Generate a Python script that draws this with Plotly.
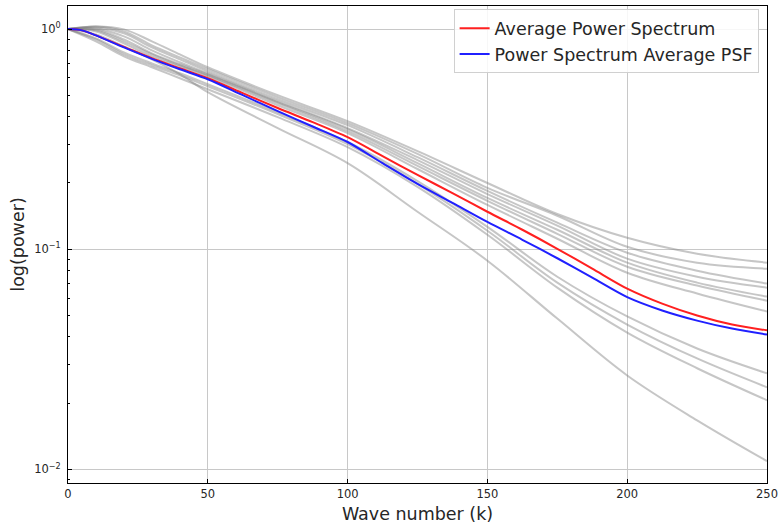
import plotly.graph_objects as go

# Wave numbers at which the two average curves were read
k_avg = [0, 5, 10, 20, 30, 40, 50, 62.5, 75, 87.5, 100, 112.5, 125, 137.5, 150,
         162.5, 175, 187.5, 200, 212.5, 225, 237.5, 250]
avg_power = [1.0, 0.987, 0.936, 0.831, 0.737, 0.664, 0.598, 0.512, 0.438, 0.378, 0.323,
             0.265, 0.2175, 0.180, 0.148, 0.1226, 0.1005, 0.0816, 0.0662, 0.0566, 0.0500,
             0.0455, 0.0428]
avg_psf = [1.0, 0.987, 0.936, 0.826, 0.733, 0.657, 0.592, 0.501, 0.424, 0.361, 0.307,
           0.246, 0.198, 0.1624, 0.133, 0.1104, 0.0910, 0.0743, 0.0606, 0.0527, 0.0474,
           0.0436, 0.0410]

# Wave numbers at which the individual (gray) spectra were read
k_gray = [0, 10, 20, 30, 40, 50, 75, 100, 125, 150, 175, 200, 225, 250]
gray_u1 = [1.0, 1.028, 0.997, 0.880, 0.768, 0.671, 0.501, 0.382, 0.279, 0.200, 0.1445, 0.1127, 0.0954, 0.0869]
gray_u2 = [1.0, 1.028, 0.976, 0.844, 0.744, 0.657, 0.491, 0.374, 0.271, 0.190, 0.142, 0.1026, 0.0869, 0.0816]
gray_u3 = [1.0, 1.018, 0.956, 0.826, 0.729, 0.643, 0.480, 0.366, 0.262, 0.184, 0.132, 0.0964, 0.0799, 0.0698]
gray_u4 = [1.0, 1.007, 0.927, 0.801, 0.707, 0.630, 0.471, 0.355, 0.254, 0.178, 0.128, 0.0906, 0.0750, 0.0669]
gray_u5 = [1.0, 0.997, 0.898, 0.776, 0.692, 0.624, 0.466, 0.351, 0.246, 0.171, 0.1226, 0.0869, 0.0705, 0.0609]
gray_u6 = [1.0, 0.987, 0.880, 0.768, 0.685, 0.617, 0.461, 0.344, 0.239, 0.166, 0.1175, 0.0833, 0.0684, 0.0584]
gray_u7 = [1.0, 0.976, 0.861, 0.752, 0.678, 0.611, 0.451, 0.337, 0.2315, 0.159, 0.1116, 0.0782, 0.0629, 0.0521]
gray_l1 = [1.0, 0.908, 0.784, 0.699, 0.630, 0.562, 0.419, 0.307, 0.204, 0.1264, 0.0750, 0.0495, 0.0354, 0.0273]
gray_l2 = [1.0, 0.898, 0.768, 0.685, 0.617, 0.550, 0.411, 0.300, 0.198, 0.1213, 0.0705, 0.0455, 0.0319, 0.0236]
gray_l3 = [1.0, 0.880, 0.752, 0.671, 0.598, 0.533, 0.398, 0.291, 0.192, 0.1163, 0.0669, 0.0418, 0.0288, 0.0206]
gray_l4 = [1.0, 0.946, 0.835, 0.729, 0.624, 0.517, 0.355, 0.246, 0.148, 0.0887, 0.0484, 0.0267, 0.0167, 0.0109]

gray_series = [gray_u1, gray_u2, gray_u3, gray_u4, gray_u5, gray_u6, gray_u7,
               gray_l1, gray_l2, gray_l3, gray_l4]

x_ticks = [0, 50, 100, 150, 200, 250]
y_ticks = [1, 0.1, 0.01]
y_tick_text = ["10<sup>0</sup>", "10<sup>\u22121</sup>", "10<sup>\u22122</sup>"]
y_minor = [0.009] + [i * 0.01 for i in range(2, 10)] + [i * 0.1 for i in range(2, 10)]

FONT = "DejaVu Sans"
TXT = "#262626"

fig = go.Figure()
for s in gray_series:
    fig.add_trace(go.Scatter(x=k_gray, y=s, mode="lines", showlegend=False, hoverinfo="skip",
                             line=dict(color="rgba(128,128,128,0.45)", width=2,
                                       shape="spline", smoothing=1.0)))

fig.add_trace(go.Scatter(x=k_avg, y=avg_power, mode="lines", name="Average Power Spectrum",
                         line=dict(color="#ff2020", width=2, shape="spline", smoothing=0.8)))
fig.add_trace(go.Scatter(x=k_avg, y=avg_psf, mode="lines", name="Power Spectrum Average PSF",
                         line=dict(color="#2020ff", width=2, shape="spline", smoothing=0.8)))

fig.update_layout(
    width=783, height=529,
    margin=dict(l=68, r=12, t=5, b=46),
    paper_bgcolor="white", plot_bgcolor="white",
    font=dict(family=FONT, color=TXT),
    legend=dict(x=0.988, y=0.993, xanchor="right", yanchor="top",
                bgcolor="rgba(255,255,255,0.85)", bordercolor="#d0d0d0", borderwidth=1,
                font=dict(family=FONT, size=17.5, color=TXT),
                tracegroupgap=0, itemwidth=30),
    showlegend=True,
)

fig.update_xaxes(
    range=[0, 250], tickvals=x_ticks, ticks="inside", ticklen=4, tickcolor="black",
    showline=True, linecolor="black", linewidth=1, mirror=True,
    showgrid=True, gridcolor="#c8c8c8", gridwidth=1, zeroline=False,
    tickfont=dict(family=FONT, size=11.5, color=TXT),
    title=dict(text="Wave number (k)", font=dict(family=FONT, size=17.5, color=TXT), standoff=7),
)
fig.update_yaxes(
    type="log", range=[-2.062, 0.105], tickvals=y_ticks, ticktext=y_tick_text,
    ticks="inside", ticklen=4, tickcolor="black",
    minor=dict(tickvals=y_minor, ticks="inside", ticklen=2, tickcolor="black", showgrid=False),
    showline=True, linecolor="black", linewidth=1, mirror=True,
    showgrid=True, gridcolor="#c8c8c8", gridwidth=1, zeroline=False,
    tickfont=dict(family=FONT, size=11.5, color=TXT),
    ticklabelstandoff=4,
    title=dict(text="log(power)", font=dict(family=FONT, size=17.5, color=TXT), standoff=5),
)

fig.write_html("out.html")
